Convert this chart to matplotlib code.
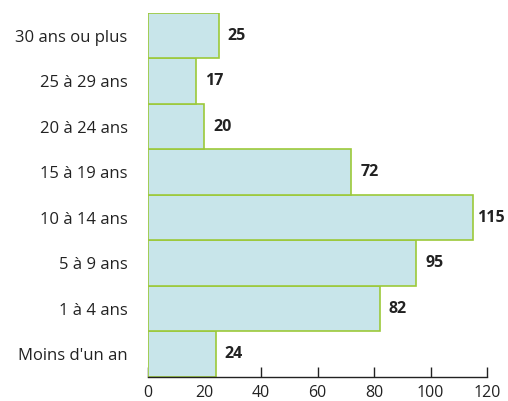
import matplotlib
matplotlib.use("Agg")
import matplotlib.pyplot as plt

categories = ["Moins d'un an", "1 à 4 ans", "5 à 9 ans", "10 à 14 ans",
              "15 à 19 ans", "20 à 24 ans", "25 à 29 ans", "30 ans ou plus"]
values = [24, 82, 95, 115, 72, 20, 17, 25]
xticks = [0, 20, 40, 60, 80, 100, 120]

plt.rcParams['font.family'] = ['Open Sans', 'DejaVu Sans']

fig = plt.figure(figsize=(5.08, 4.01), dpi=100)
ax = fig.add_axes([0.291, 0.06, 0.668, 0.908])

y = list(range(len(categories)))
ax.barh(y, values, height=1.0, color="#c8e5ea", edgecolor="#9cc93a", linewidth=1.2, zorder=2)
vmax = max(values)
for yi, v in zip(y, values):
    off = 3 if v == vmax else 6.5
    ax.annotate(f"{v}", xy=(v, yi), xytext=(off, 0), textcoords="offset points",
                va="center", ha="left", fontsize=11.5, fontweight="bold",
                color="#222222", annotation_clip=False)

ax.set_xlim(0, 120)
ax.set_ylim(-0.5, len(categories) - 0.5)
ax.set_yticks(y)
ax.set_yticklabels(categories, fontsize=12, color="#222222")
ax.set_xticks(xticks)
ax.set_xticklabels([str(t) for t in xticks], fontsize=11.5, color="#222222")
ax.tick_params(axis="y", length=0, pad=14.5)
ax.tick_params(axis="x", direction="in", length=7, width=1, color="#222222", pad=6)
for s in ["top", "right", "left"]:
    ax.spines[s].set_visible(False)
ax.spines["bottom"].set_color("#222222")
ax.spines["bottom"].set_linewidth(1)

fig.savefig("out.png", dpi=100)
